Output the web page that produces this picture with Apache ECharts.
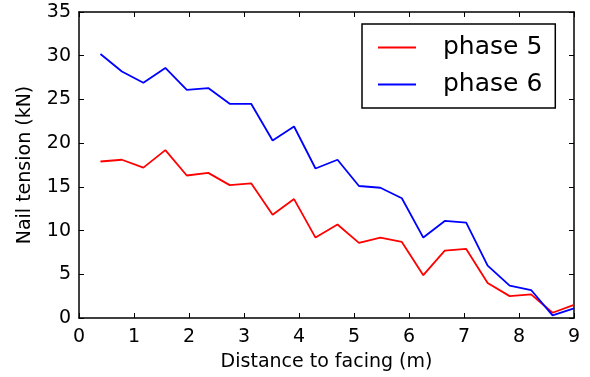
<!DOCTYPE html>
<html>
<head>
<meta charset="utf-8">
<script src="https://cdn.jsdelivr.net/npm/echarts@6/dist/echarts.min.js"></script>
<style>
  html, body { margin: 0; padding: 0; background: #fff; }
  #chart { width: 590px; height: 377px; }
</style>
</head>
<body>
<div id="chart"></div>
<script>
const distance = [0.39, 0.78, 1.17, 1.57, 1.96, 2.35, 2.74, 3.13, 3.52, 3.91, 4.30, 4.70,
    5.09, 5.48, 5.87, 6.26, 6.65, 7.04, 7.43, 7.83, 8.22, 8.61, 9.00];
const phase5 = [17.9, 18.1, 17.2, 19.2, 16.3, 16.6, 15.2, 15.4, 11.8, 13.6, 9.2, 10.7,
    8.6, 9.2, 8.7, 4.9, 7.7, 7.9, 4.0, 2.5, 2.7, 0.6, 1.5];
const phase6 = [30.2, 28.2, 26.9, 28.6, 26.1, 26.3, 24.5, 24.5, 20.3, 21.9, 17.1, 18.1,
    15.1, 14.9, 13.7, 9.2, 11.1, 10.9, 6.0, 3.7, 3.2, 0.3, 1.1];

const font = 'DejaVu Sans';

const pairs = (ys) => distance.map((x, i) => [x, ys[i]]);

const frameAxis = (extra) => Object.assign({
    type: 'value',
    axisLine: { show: true, onZero: false, lineStyle: { color: '#000', width: 1.5 } },
    axisTick: { show: true, inside: true, length: 5, lineStyle: { color: '#000', width: 1 } },
    splitLine: { show: false },
}, extra);

const chart = echarts.init(document.getElementById('chart'));
const option = {
    animation: false,
    backgroundColor: '#fff',
    grid: { left: 79, right: 16, top: 12, bottom: 59 },
    legend: {
        left: 362,
        top: 24,
        orient: 'vertical',
        icon: 'rect',
        itemWidth: 38,
        itemHeight: 2,
        itemGap: 12,
        padding: [11, 13, 11, 16],
        borderColor: '#000',
        borderWidth: 1.5,
        textStyle: { fontFamily: font, fontSize: 25, color: '#000', padding: [0, 0, 0, 22] },
        data: ['phase 5', 'phase 6'],
    },
    xAxis: [
        frameAxis({
            min: 0, max: 9, interval: 1,
            name: 'Distance to facing (m)',
            nameLocation: 'middle',
            nameGap: 35,
            nameTextStyle: { fontFamily: font, fontSize: 19, color: '#000' },
            axisLabel: { fontFamily: font, fontSize: 19, color: '#000', margin: 10 },
        }),
        frameAxis({
            position: 'top', min: 0, max: 9, interval: 1,
            axisLabel: { show: false },
        }),
    ],
    yAxis: [
        frameAxis({
            min: 0, max: 35, interval: 5,
            name: 'Nail tension (kN)',
            nameLocation: 'middle',
            nameGap: 44,
            nameTextStyle: { fontFamily: font, fontSize: 19, color: '#000' },
            axisLabel: { fontFamily: font, fontSize: 19, color: '#000', margin: 8 },
        }),
        frameAxis({
            position: 'right', min: 0, max: 35, interval: 5,
            axisLabel: { show: false },
        }),
    ],
    series: [
        {
            name: 'phase 5',
            type: 'line',
            data: pairs(phase5),
            symbol: 'none',
            color: '#ff0000',
            lineStyle: { color: '#ff0000', width: 1.8 },
        },
        {
            name: 'phase 6',
            type: 'line',
            data: pairs(phase6),
            symbol: 'none',
            color: '#0000ff',
            lineStyle: { color: '#0000ff', width: 1.8 },
        },
    ],
};
chart.setOption(option);
</script>
</body>
</html>
